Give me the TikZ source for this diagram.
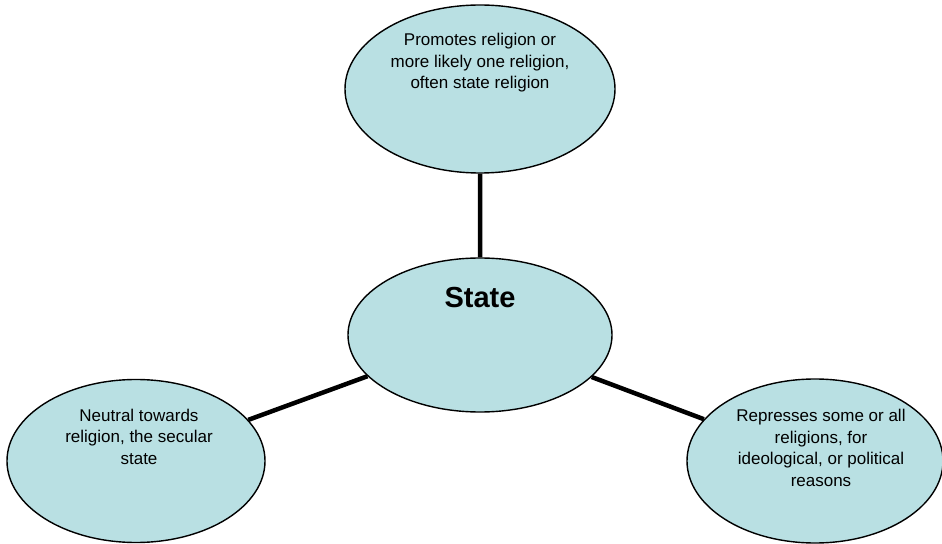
\documentclass[tikz,border=0pt]{standalone}
\usepackage{fontspec}
\setmainfont{Liberation Sans}
\usetikzlibrary{shapes.geometric,positioning}
\definecolor{paleblue}{RGB}{185,224,227}
\tikzset{
	bubble/.style={ellipse,draw=black,line width=1.4bp,fill=paleblue,inner sep=0pt},
	link/.style={line width=4.5bp},
	txt/.style={align=center,inner sep=0pt,font=\fontsize{17bp}{21.5bp}\selectfont}
}
\begin{document}
\begin{tikzpicture}[x=1bp,y=-1bp]
				\useasboundingbox (0,0) rectangle (942,544);
				\path (480,89) coordinate (T)
				(480,335) coordinate (S)
				(136,461) coordinate (L)
				(815,461) coordinate (R);
				\foreach \x/\w/\h in {T/270/168, S/264/154, L/258/163, R/256/164}{
					\node[bubble,minimum width=\w bp,minimum height=\h bp] (\x e) at (\x) {};
				}
				\draw[link] (Te)--(Se) (Se)--(Le) (Se)--(Re);
				\node[txt,below=29bp of Te.north] (Tt) {Promotes religion or\\more likely one religion,\\often state religion};
				\node[txt,below=30bp of Se.north,font=\bfseries\fontsize{29bp}{35bp}\selectfont] (St) {State};
				\node[txt,below=30bp of Le.north,xshift=3bp] (Lt) {Neutral towards\\religion, the secular\\state};
				\node[txt,below=31bp of Re.north,xshift=6bp] (Rt) {Represses some or all\\religions, for\\ideological, or political\\reasons};
			\end{tikzpicture}
\end{document}
